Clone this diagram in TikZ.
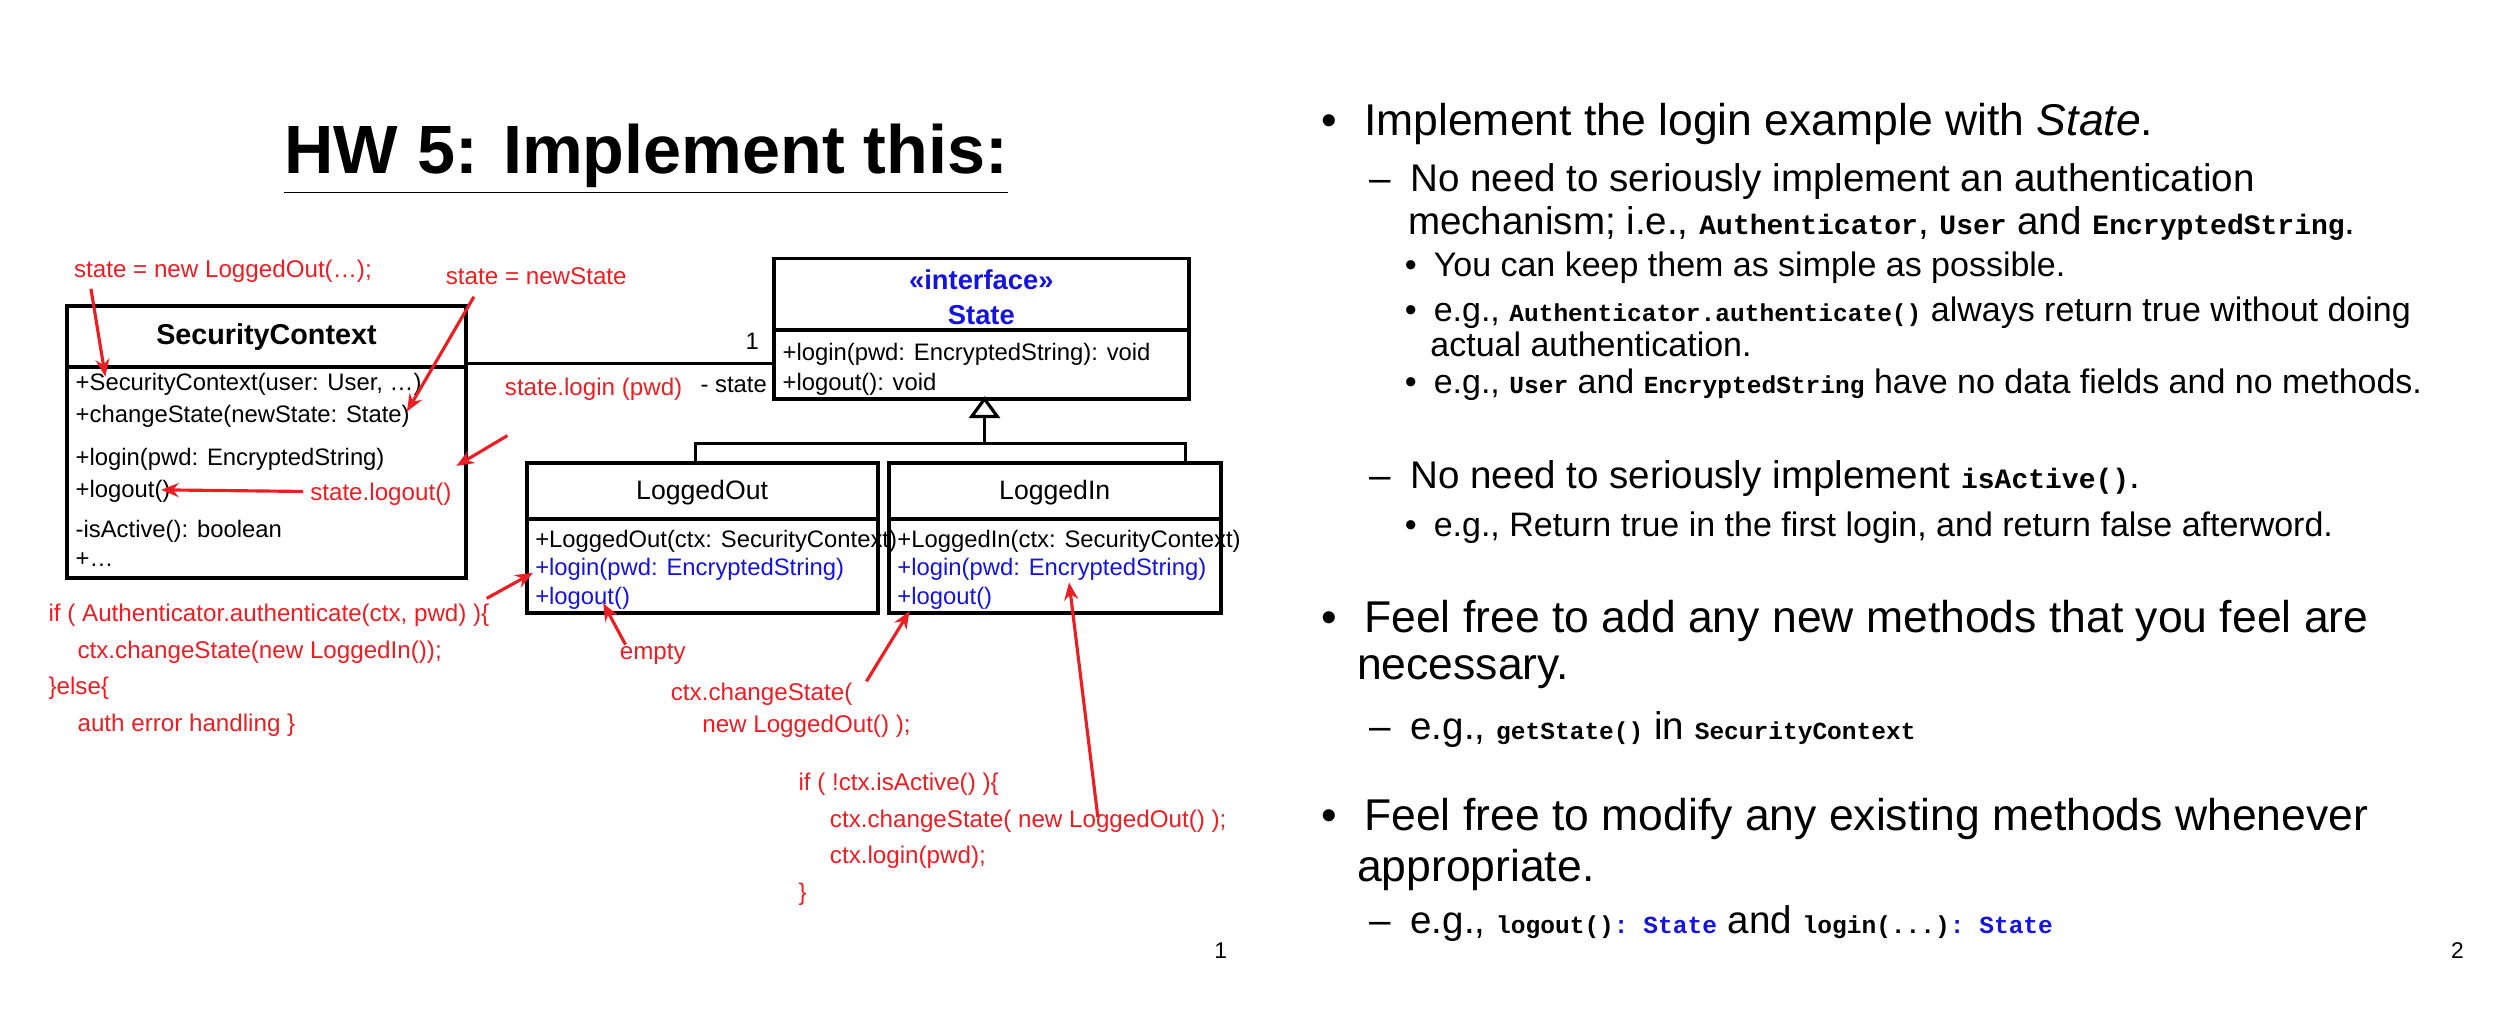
\documentclass[tikz,border=0pt]{standalone}
\usepackage{fontspec}
\setmainfont{Liberation Sans}
\setmonofont{Liberation Mono}
\usetikzlibrary{arrows.meta}
\definecolor{ann}{RGB}{235,30,35}
\definecolor{ublue}{RGB}{20,20,220}
\newcommand{\cd}[1]{{\ttfamily\bfseries #1}}
\tikzset{
  x=0.016cm,y=-0.016cm,
  dtxt/.style={anchor=west,inner sep=0pt,font=\fontsize{6.8}{8}\selectfont},
  rtxt/.style={anchor=west,inner sep=0pt,text=ann,font=\fontsize{6.9}{8}\selectfont},
  box/.style={draw,line width=1.1pt},
  assoc/.style={line width=0.8pt},
  rarr/.style={draw=ann,line width=0.9pt,-{Stealth[length=5pt,width=4pt]}},
  big/.style={anchor=west,inner sep=0pt,font=\fontsize{12.7}{14}\selectfont},
  mid/.style={anchor=west,inner sep=0pt,font=\fontsize{11}{12}\selectfont},
  sml/.style={anchor=west,inner sep=0pt,font=\fontsize{9.7}{10}\selectfont},
}
\begin{document}
\begin{tikzpicture}
\useasboundingbox (0,0) rectangle (1568,637);
% title
\node[inner sep=0pt,font=\fontsize{19.5}{21}\selectfont\bfseries] (title) at (405,100) {\underline{HW 5: Implement this:}};
% SecurityContext
\draw[box] (42,192) rectangle (292,362);
\draw[box] (42,230) -- (292,230);
\node[inner sep=0pt,font=\fontsize{8.2}{9}\selectfont\bfseries] (sc) at (167,211) {SecurityContext};
\node[dtxt] (sc1) at (47,241) {+SecurityContext(user: User, …)};
\node[dtxt] (sc2) at (47,261) {+changeState(newState: State)};
\node[dtxt] (sc3) at (47,288) {+login(pwd: EncryptedString)};
\node[dtxt] (sc4) at (47,308) {+logout()};
\node[dtxt] (sc5) at (47,333) {-isActive(): boolean};
\node[dtxt] (sc6) at (47,351) {+…};
% State
\draw[box] (485,162) rectangle (745,250);
\draw[box] (485,207) -- (745,207);
\node[inner sep=0pt,text=ublue,font=\fontsize{7.8}{9}\selectfont\bfseries,align=center] (st) at (615,186) {\textless\textless interface\textgreater\textgreater\\[1pt]State};
\node[dtxt] (st1) at (490,222) {+login(pwd: EncryptedString): void};
\node[dtxt] (st2) at (490,241) {+logout(): void};
% association
\coordinate (a1) at (292,228); \coordinate (a2) at (485,228);
\draw[assoc] (a1) -- (a2);
\node[dtxt,anchor=east] (one) at (476,214) {1};
\node[dtxt,anchor=east] (role) at (481,241) {- state};
% generalization
\draw[line width=0.9pt] (617,261) -- (617,278);
\draw[line width=0.9pt] (436,290) -- (436,278) -- (743,278) -- (743,290);
\draw[line width=0.9pt,fill=white] (617,250) -- (625,261) -- (609,261) -- cycle;
% LoggedOut
\draw[box] (330,290) rectangle (550,384);
\draw[box] (330,325) -- (550,325);
\node[inner sep=0pt,font=\fontsize{7.6}{9}\selectfont] (lo) at (440,309) {LoggedOut};
\node[dtxt] (lo1) at (335,339) {+LoggedOut(ctx: SecurityContext)};
\node[dtxt,text=ublue] (lo2) at (335,357) {+login(pwd: EncryptedString)};
\node[dtxt,text=ublue] (lo3) at (335,375) {+logout()};
% LoggedIn
\draw[box] (557,290) rectangle (765,384);
\draw[box] (557,325) -- (765,325);
\node[inner sep=0pt,font=\fontsize{7.6}{9}\selectfont] (li) at (661,309) {LoggedIn};
\node[dtxt] (li1) at (562,339) {+LoggedIn(ctx: SecurityContext)};
\node[dtxt,text=ublue] (li2) at (562,357) {+login(pwd: EncryptedString)};
\node[dtxt,text=ublue] (li3) at (562,375) {+logout()};
% annotations
\node[rtxt] (n1) at (46,170) {state = new LoggedOut(…);};
\node[rtxt] (n2) at (279,173) {state = newState};
\node[rtxt] (n3) at (316,244) {state.login (pwd)};
\node[rtxt] (n4) at (194,310) {state.logout()};
\node[rtxt,align=left] (n5) at (30,420) {if ( Authenticator.authenticate(ctx, pwd) )\{\\[2.5pt]\hspace*{1.2em}ctx.changeState(new LoggedIn());\\[2.5pt]\}else\{\\[2.5pt]\hspace*{1.2em}auth error handling \}};
\node[rtxt] (n6) at (388,410) {empty};
\node[rtxt,align=left] (n7) at (420,445) {ctx.changeState(\\[1pt]\hspace*{1.3em}new LoggedOut() );};
\node[rtxt,align=left] (n8) at (500,526) {if ( !ctx.isActive() )\{\\[2.5pt]\hspace*{1.3em}ctx.changeState( new LoggedOut() );\\[2.5pt]\hspace*{1.3em}ctx.login(pwd);\\[2.5pt]\}};
\coordinate (s1) at (57,181); \coordinate (e1) at (66,236);
\coordinate (s2) at (297,186); \coordinate (e2) at (255,258);
\coordinate (s3) at (318,273); \coordinate (e3) at (286,292);
\coordinate (s4) at (190,308); \coordinate (e4) at (101,307);
\coordinate (s5) at (305,375); \coordinate (e5) at (334,359);
\coordinate (s6) at (392,404); \coordinate (e6) at (378,378);
\coordinate (s7) at (543,427); \coordinate (e7) at (570,383);
\coordinate (s8) at (688,512); \coordinate (e8) at (670,365);
\foreach \i in {1,...,8} \draw[rarr] (s\i) -- (e\i);
\node[inner sep=0pt,font=\fontsize{6.5}{7}\selectfont] (p1) at (765,596) {1};
\node[inner sep=0pt,font=\fontsize{6.5}{7}\selectfont] (p2) at (1540,596) {2};
% right text
\node[big] (b1) at (828,78) {•\hspace{0.6em}Implement the login example with \textit{State}.};
\node[mid] (d1) at (858,114) {–\hspace{0.5em}No need to seriously implement an authentication};
\node[mid] (d1b) at (882,140) {mechanism; i.e., \cd{\footnotesize Authenticator}, \cd{\footnotesize User} and \cd{\footnotesize EncryptedString}.};
\node[sml] (c1) at (880,168) {•\hspace{0.5em}You can keep them as simple as possible.};
\node[sml] (c2) at (880,196) {•\hspace{0.5em}e.g., \cd{\scriptsize Authenticator.authenticate()} always return true without doing};
\node[sml] (c2b) at (896,216) {actual authentication.};
\node[sml] (c3) at (880,241) {•\hspace{0.5em}e.g., \cd{\scriptsize User} and \cd{\scriptsize EncryptedString} have no data fields and no methods.};
\node[mid] (d2) at (858,300) {–\hspace{0.5em}No need to seriously implement \cd{\footnotesize isActive()}.};
\node[sml] (c4) at (880,331) {•\hspace{0.5em}e.g., Return true in the first login, and return false afterword.};
\node[big] (b2) at (828,389) {•\hspace{0.6em}Feel free to add any new methods that you feel are};
\node[big] (b2b) at (850,421) {necessary.};
\node[mid] (d3) at (858,457) {–\hspace{0.5em}e.g., \cd{\scriptsize getState()} in \cd{\scriptsize SecurityContext}};
\node[big] (b3) at (828,513) {•\hspace{0.6em}Feel free to modify any existing methods whenever};
\node[big] (b3b) at (850,545) {appropriate.};
\node[mid] (d4) at (858,579) {–\hspace{0.5em}e.g., \cd{\scriptsize logout()}\cd{\scriptsize\color{ublue}: State} and \cd{\scriptsize login(...)}\cd{\scriptsize\color{ublue}: State}};
\end{tikzpicture}
\end{document}
